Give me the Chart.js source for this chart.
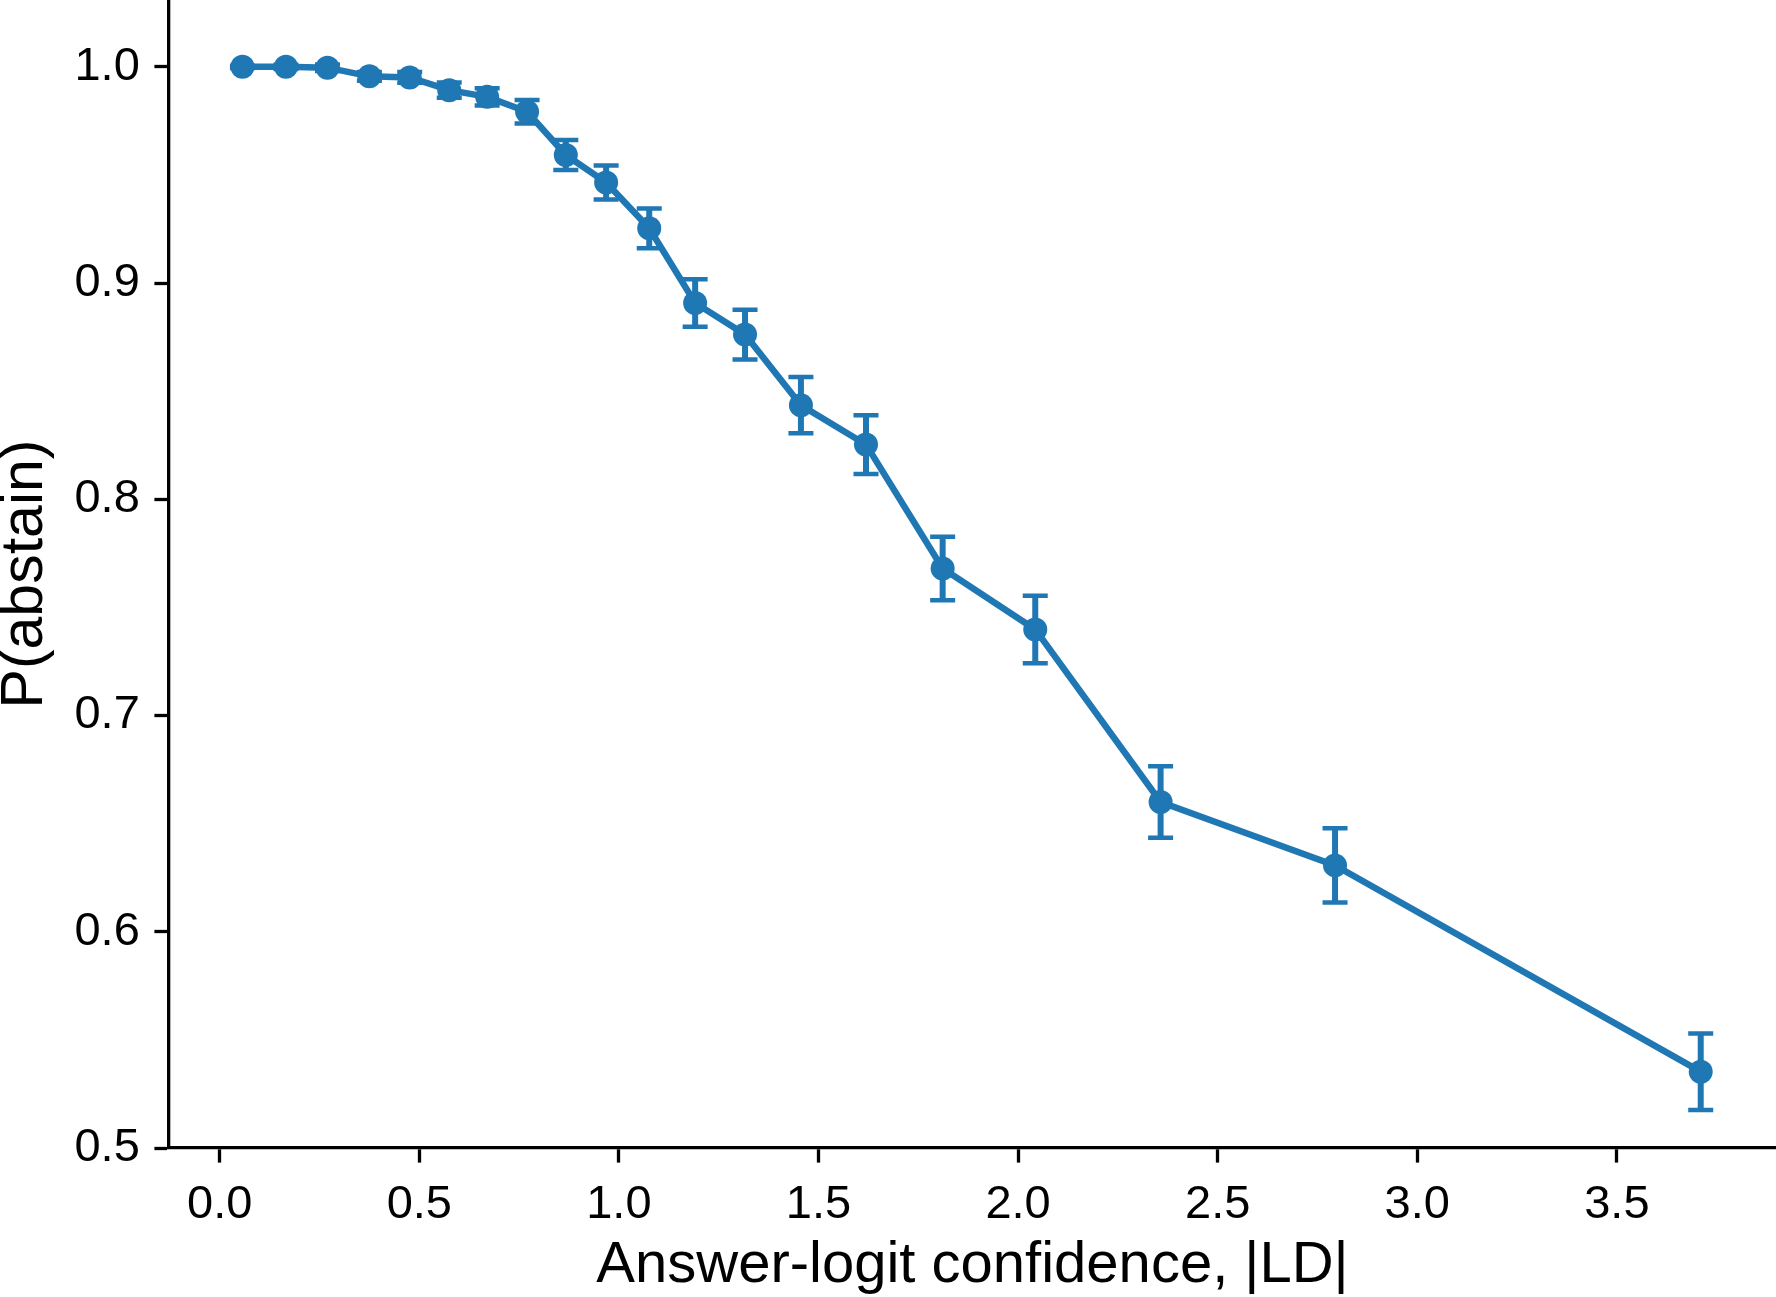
<!DOCTYPE html>
<html>
<head>
<meta charset="utf-8">
<title>P(abstain) vs answer-logit confidence</title>
<script src="https://cdn.jsdelivr.net/npm/chart.js@4.4.1/dist/chart.umd.min.js"></script>
<style>
    html, body { margin: 0; padding: 0; background: #ffffff; }
    #wrap { width: 1776px; height: 1297px; position: relative; }
</style>
</head>
<body>
<div id="wrap"><canvas id="abstain_Chart"></canvas></div>
<script>
// values
const confidence = [0.057, 0.166, 0.270, 0.375, 0.476, 0.575, 0.670, 0.770, 0.867, 0.968,
                    1.076, 1.191, 1.316, 1.456, 1.619, 1.811, 2.043, 2.357, 2.794, 3.710];
const pAbstain = [1.000, 1.000, 0.9996, 0.9956, 0.9951, 0.9892, 0.9861, 0.9792, 0.9592, 0.9465,
                  0.9253, 0.8908, 0.8762, 0.8435, 0.8253, 0.768, 0.7398, 0.660, 0.6307, 0.5353];
const pAbstainErr = [0.0005, 0.001, 0.0015, 0.002, 0.0025, 0.0035, 0.004, 0.0054, 0.0069, 0.0079,
                     0.0092, 0.011, 0.0115, 0.013, 0.0136, 0.0147, 0.0156, 0.0165, 0.0172, 0.0177];
const xTicks = [0.0, 0.5, 1.0, 1.5, 2.0, 2.5, 3.0, 3.5];
const yTicks = [0.5, 0.6, 0.7, 0.8, 0.9, 1.0];

const blue = "#1f77b4";
const fontName = "'Liberation Sans', Arial, sans-serif";

// vertical error bars with caps, drawn under the line and markers
const errorBars = {
    id: "errorBars",
    beforeDatasetsDraw(chart) {
        let ctx = chart.ctx;
        let x = chart.scales.x;
        let y = chart.scales.y;
        ctx.save();
        ctx.strokeStyle = blue;
        for (let i = 0; i < confidence.length; i++) {
            let px = x.getPixelForValue(confidence[i]);
            let top = y.getPixelForValue(pAbstain[i] + pAbstainErr[i]);
            let bot = y.getPixelForValue(pAbstain[i] - pAbstainErr[i]);
            ctx.lineWidth = 6;
            ctx.beginPath();
            ctx.moveTo(px, top);
            ctx.lineTo(px, bot);
            ctx.stroke();
            ctx.lineWidth = 4.5;
            ctx.beginPath();
            ctx.moveTo(px - 12.5, top);
            ctx.lineTo(px + 12.5, top);
            ctx.moveTo(px - 12.5, bot);
            ctx.lineTo(px + 12.5, bot);
            ctx.stroke();
        }
        ctx.restore();
    }
};

class AbstainChart {
    constructor(name) {
        this.name = name;
        this.chart;
        this.generateChart();
    }

    generateChart() {
        let points = [];
        for (let i = 0; i < confidence.length; i++) {
            points.push({x: confidence[i], y: pAbstain[i]});
        }

        const axisCommon = {
            border: {display: true, color: "#000000", width: 3.3},
            grid: {
                drawOnChartArea: false,
                drawTicks: true,
                tickLength: 14.6,
                tickWidth: 3.3,
                tickColor: "#000000"
            }
        };

        this.chart = new Chart(this.name, {
            type: "scatter",
            data: {
                datasets: [{
                    data: points,
                    showLine: true,
                    borderColor: blue,
                    backgroundColor: blue,
                    borderWidth: 6.5,
                    pointRadius: 12,
                    pointHoverRadius: 12,
                    pointBorderWidth: 0,
                    clip: false
                }]
            },
            options: {
                responsive: true,
                maintainAspectRatio: false,
                animation: false,
                devicePixelRatio: 1,
                layout: {autoPadding: false, padding: {top: 0, right: 0, bottom: 0, left: 0}},
                plugins: {
                    legend: {display: false},
                    tooltip: {enabled: false}
                },
                scales: {
                    x: {
                        type: "linear",
                        min: -0.127,
                        max: 3.8986,
                        ...axisCommon,
                        afterBuildTicks: (scale) => { scale.ticks = xTicks.map(v => ({value: v})); },
                        afterFit: (scale) => {
                            scale.height = 149;
                            scale.paddingLeft = 0;
                            scale.paddingRight = 0;
                        },
                        ticks: {
                            color: "#000000",
                            padding: 14.6,
                            maxRotation: 0,
                            font: {family: fontName, size: 47},
                            callback: (v) => Number(v).toFixed(1)
                        },
                        title: {
                            display: true,
                            text: "Answer-logit confidence, |LD|",
                            color: "#000000",
                            font: {family: fontName, size: 58, lineHeight: 1.0},
                            padding: {top: 0, bottom: 2}
                        }
                    },
                    y: {
                        type: "linear",
                        min: 0.5,
                        max: 1.0309,
                        ...axisCommon,
                        afterBuildTicks: (scale) => { scale.ticks = yTicks.map(v => ({value: v})); },
                        afterFit: (scale) => {
                            scale.width = 169;
                            scale.paddingTop = 0;
                            scale.paddingBottom = 0;
                        },
                        ticks: {
                            color: "#000000",
                            padding: 14.6,
                            font: {family: fontName, size: 47},
                            callback: (v) => Number(v).toFixed(1)
                        },
                        title: {
                            display: true,
                            text: "P(abstain)",
                            color: "#000000",
                            font: {family: fontName, size: 59, lineHeight: 0.88},
                            padding: {top: 0, bottom: 0}
                        }
                    }
                }
            },
            plugins: [errorBars]
        });
    }

    getChart() {
        return this.chart;
    }
}

new AbstainChart("abstain_Chart");
</script>
</body>
</html>
